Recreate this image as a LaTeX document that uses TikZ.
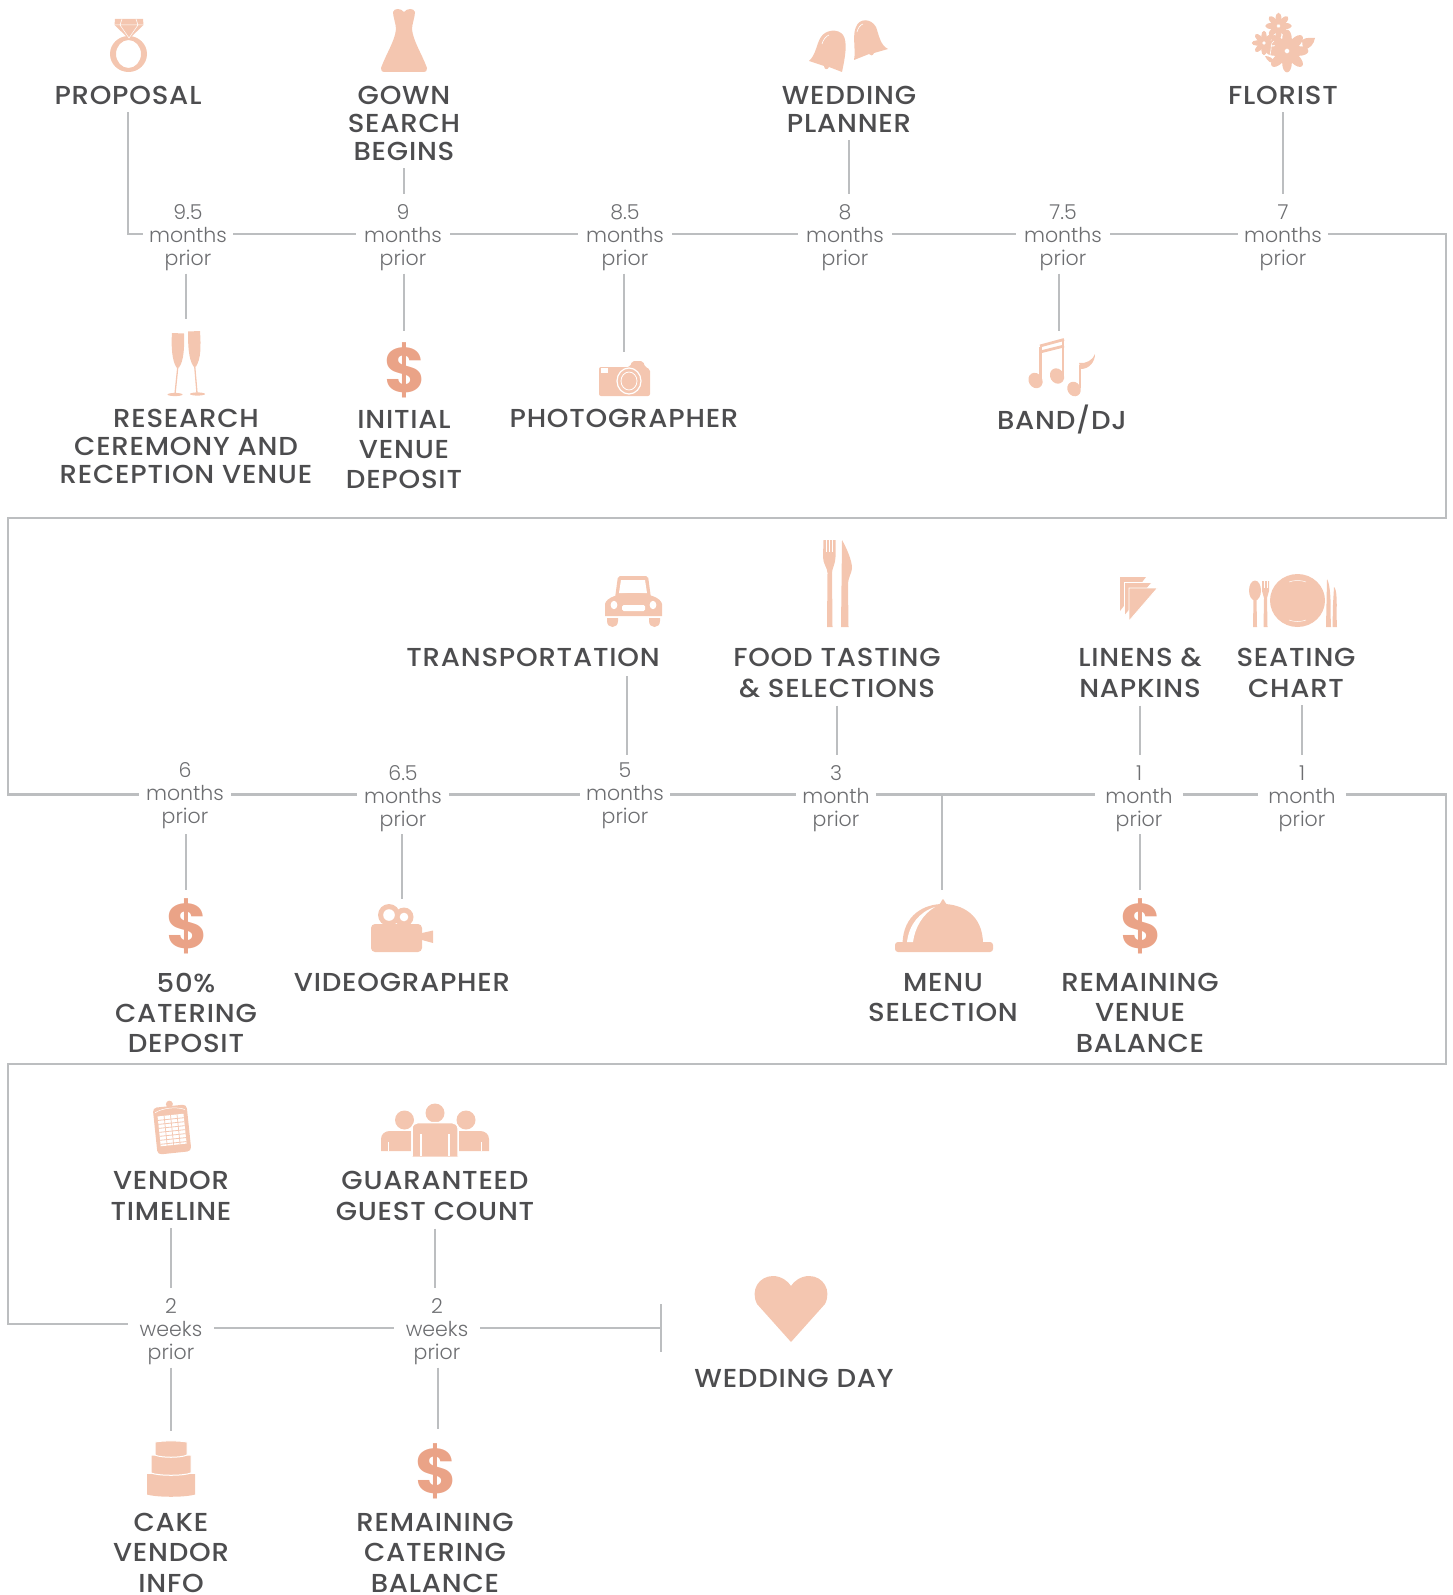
\documentclass[tikz,border=0pt]{standalone}
\usepackage{fontspec}
\setmainfont{Poppins}
\newfontfamily\labelfont{Poppins Medium}[FakeStretch=1.06,LetterSpace=3]
\newfontfamily\timefont{Poppins Light}
\newfontfamily\dollarfont{Poppins Bold}
\definecolor{linegray}{HTML}{BCBEC0}
\definecolor{labelgray}{HTML}{4D4D4F}
\definecolor{timegray}{HTML}{6D6E71}
\definecolor{peach}{HTML}{F4C6B0}
\definecolor{salmon}{HTML}{EAA387}

\tikzset{
  conn/.style={draw=linegray,line width=2.8pt},
  tnode/.style={align=center,text=timegray,inner xsep=6pt,inner ysep=0pt,minimum height=79pt,
    font=\timefont\fontsize{20.5}{23}\selectfont},
  lab/.style={align=center,text=labelgray,inner sep=0pt,outer ysep=8pt,anchor=north,yshift=8pt,
    font=\labelfont\fontsize{26}{#1}\selectfont},
  lab/.default=28,
  dollar/.style={text=salmon,inner sep=0pt,font=\dollarfont\fontsize{63}{63}\selectfont},
  % the icons, drawn from their top left corner
  ringpic/.pic={
    \fill[peach,even odd rule] (18.5,35) ellipse [x radius=18.5,y radius=18] (18.5,35) ellipse [x radius=12.5,y radius=14];
    \fill[peach] (5,0) -- (33,0) -- (33.5,6) -- (20,19) -- (18,19) -- (4.5,6) -- cycle;
    \draw[white,line width=.5pt] (4.5,6) -- (33.5,6) (12,0) -- (10,6) -- (19,19) -- (28,6) -- (26,0);
  },
  gownpic/.pic={
    \fill[peach] (23,3) .. controls (20,-1) and (13,-1) .. (12,3) .. controls (12,8) and (15,15) .. (15,20)
      .. controls (14,32) and (5,45) .. (0,59) .. controls (0,62) and (1,63) .. (3,63) -- (43,63)
      .. controls (45,63) and (46,62) .. (46,59) .. controls (41,45) and (32,32) .. (31,20)
      .. controls (31,15) and (34,8) .. (34,3) .. controls (33,-1) and (26,-1) .. (23,3) -- cycle;
  },
  bellspic/.pic={
    \fill[peach] (0,41) .. controls (7,35) and (8,22) .. (12,17) .. controls (16,10) and (29,8) .. (34,15)
      .. controls (39,22) and (36,38) .. (33,52) -- (20,47) .. controls (19,50) and (15,50) .. (15,46) -- cycle;
    \fill[peach] (45,40) .. controls (47,30) and (43,15) .. (47,7) .. controls (50,-2) and (62,-2) .. (67,7)
      .. controls (70,15) and (71,25) .. (79,29) -- (65,33) .. controls (64,36) and (61,36) .. (60,34) -- cycle;
    \draw[white,line width=.6pt] (13,24) .. controls (14,20) and (17,16) .. (20,15);
    \draw[white,line width=.6pt] (48,12) .. controls (49,8) and (51,5) .. (54,4);
  },
  flowerpic/.pic={
    \fill[peach] (50,27) .. controls (54,24) and (59,25) .. (63,25) .. controls (62,31) and (58,36) .. (51,37) -- cycle;
    \fill[peach] (13,43) .. controls (17,43) and (21,45) .. (24,50) .. controls (19,51) and (15,48) .. (13,43) -- cycle;
    \foreach \cx/\cy/\r/\n in {26.5/13/13/8,12/30/12/8,35/38/21/8}{
      \foreach \i in {1,...,\n}
        \fill[peach] (\cx,\cy) ++(\i*360/\n:\r*0.56) ellipse [x radius=\r*0.46,y radius=\r*0.23,rotate=-\i*360/\n];
      \fill[white] (\cx,\cy) circle (.9);
    }
    \draw[white,line width=.6pt] (22,28) .. controls (18,30) and (20,35) .. (18,42);
  },
  flutespic/.pic={
    \fill[peach] (5,2) -- (17,2.5) .. controls (17.5,15) and (17,30) .. (12,36.5) -- (9.5,36.5) .. controls (5,30) and (4,15) .. (5,2) -- cycle;
    \fill[peach] (21,.5) -- (33,0) .. controls (34,15) and (34,28) .. (29,35.5) -- (26.5,35.5) .. controls (21.5,28) and (21,15) .. (21,.5) -- cycle;
    \draw[peach,line width=1.3pt] (10.8,36) -- (8,63) (27.7,35) -- (30,62);
    \fill[peach] (8,63.5) ellipse [x radius=7.5,y radius=1.6] (30.5,63) ellipse [x radius=7.5,y radius=1.6];
  },
  camerapic/.pic={
    \fill[peach,rounded corners=2pt] (31,6) -- (33,0) -- (44,0) -- (46,6) -- (51,8) -- (51,35) -- (0,35) -- (0,6) -- cycle;
    \fill[white] (2,7) rectangle (9,12);
    \draw[white,line width=1.2pt] (30,20) ellipse [x radius=12,y radius=13];
    \draw[white,line width=.8pt] (30,20) ellipse [x radius=8,y radius=9];
  },
  musicpic/.pic={
    \fill[peach,rotate around={30:(6.5,42.5)}] (6.5,42.5) ellipse [x radius=6.8,y radius=8];
    \fill[peach,rotate around={30:(28,38)}] (28,38) ellipse [x radius=6.8,y radius=8];
    \fill[peach,rotate around={30:(45,51)}] (45,51) ellipse [x radius=6.5,y radius=7.5];
    \draw[peach,line width=2.4pt] (11.5,42) -- (11.5,9) (34,38) -- (34,2) (51,50) -- (51,27);
    \draw[peach,line width=2.8pt] (11,8) -- (35,1.5) (11,14) -- (35,8);
    \fill[peach] (50,25) .. controls (57,26) and (64,22) .. (66,16) .. controls (66,24) and (60,31) .. (52,31) -- cycle;
  },
  carpic/.pic={
    \fill[peach,rounded corners=2pt] (13,0) -- (43,0) -- (46,22) -- (10,22) -- cycle;
    \fill[white] (16,4) -- (40,4) -- (42,17) -- (14,17) -- cycle;
    \fill[peach] (0,40) -- (0,28) .. controls (1,22) and (13,17) .. (28.5,17) .. controls (44,17) and (56,22) .. (57,28) -- (57,40) -- cycle;
    \fill[white] (9,29) ellipse [x radius=3.4,y radius=4.2] (48,29) ellipse [x radius=3.4,y radius=4.2];
    \fill[white,rounded corners=1.5pt] (17,29) rectangle (40,35);
    \fill[peach] (2,42) -- (13,42) -- (13,45) .. controls (13,53) and (2,53) .. (2,45) -- cycle
      (44,42) -- (55,42) -- (55,45) .. controls (55,53) and (44,53) .. (44,45) -- cycle;
  },
  cutlerypic/.pic={
    \fill[peach] (.5,0) -- (12.5,0) -- (12.5,17) .. controls (12.5,24) and (9,28) .. (9,33) -- (9.5,87) -- (4,87) -- (4.5,33) .. controls (4.5,28) and (0,24) .. (0,17) -- cycle;
    \draw[white,line width=.5pt] (3.5,0) -- (3.5,12) (6.5,0) -- (6.5,12) (9.5,0) -- (9.5,12);
    \fill[peach] (19,0) .. controls (23,7) and (29,20) .. (29,28) .. controls (29,33) and (25,37) .. (25,45) -- (25.5,87) -- (18,87) -- (18.5,45) -- cycle;
  },
  napkinpic/.pic={
    \fill[peach] (0,0) -- (26,0) -- (0,34) -- cycle;
    \draw[white,line width=.8pt,fill=peach] (4.5,5.5) -- (32,5.5) -- (4.5,39) -- cycle;
    \draw[white,line width=.8pt,fill=peach] (9,11) -- (37.5,11) -- (9,44) -- cycle;
  },
  platepic/.pic={
    \fill[peach] (6,16.5) ellipse [x radius=6,y radius=10];
    \fill[peach] (4.5,24) -- (7.5,24) -- (8,53) -- (4,53) -- cycle;
    \fill[peach] (13,7) -- (20,7) -- (20,17) .. controls (20,20) and (18,21) .. (18,24) -- (18.5,53) -- (14.5,53) -- (15,24) .. controls (15,21) and (13,20) .. (13,17) -- cycle;
    \draw[white,line width=.4pt] (15.3,7) -- (15.3,14) (17.7,7) -- (17.7,14);
    \fill[peach] (48.5,26.5) ellipse [x radius=27.5,y radius=26.5];
    \draw[white,line width=.5pt] (40,8) .. controls (45,6) and (52,6) .. (57,8) (40,46) .. controls (45,48) and (52,48) .. (57,46);
    \fill[peach] (78,5) .. controls (81,10) and (82,25) .. (81.5,38) -- (82,53) -- (77,53) -- cycle;
    \fill[peach] (85,13) .. controls (88,15) and (88,30) .. (87.5,40) -- (88,53) -- (83.5,53) -- (84,30) -- cycle;
  },
  videopic/.pic={
    \fill[peach] (18,10) circle (11) (33,12) circle (9.5);
    \fill[white] (18,10) circle (5.8) (33,12) circle (4.3);
    \fill[peach,rounded corners=4pt] (0,19) rectangle (51,47);
    \fill[peach] (51,28) -- (62,25.5) -- (62,38) -- (51,35) -- cycle;
  },
  clochepic/.pic={
    \fill[peach] (7.5,45) .. controls (8,15) and (30,5) .. (48,5) .. controls (66,5) and (88,15) .. (88,45) -- cycle;
    \fill[peach] (43,6) .. controls (46,5) and (47,0) .. (48,0) .. controls (49,0) and (50,5) .. (53,6) -- cycle;
    \fill[peach,rounded corners=3pt] (0,43) -- (98,43) -- (98,53) -- (0,53) -- cycle;
    \fill[white] (12,43) .. controls (14,26) and (24,13) .. (40,8) .. controls (28,15) and (20,28) .. (18,43) -- cycle;
  },
  clipboardpic/.pic={
    \begin{scope}[rotate around={6:(21,28)}]
      \fill[peach] (21,3) circle (3.5);
      \fill[peach,rounded corners=4pt] (4,5) rectangle (38,52);
      \fill[white] (8,14) rectangle (34,44);
      \foreach \c in {14.5,21,27.5}
        \draw[peach,line width=.7pt] (\c,14) -- (\c,44);
      \foreach \r in {18,22,...,42}
        \draw[peach,line width=.8pt] (8,\r) -- (34,\r);
      \draw[white,line width=.5pt] (6,10) .. controls (14,6) and (28,6) .. (36,10);
    \end{scope}
  },
  peoplepic/.pic={
    \fill[peach] (23.5,17) circle (9.5) (85,17) circle (9.5) (54,10) circle (9.5);
    \fill[peach] (0,48) -- (0,36) .. controls (0,31) and (4,28) .. (9,28) -- (30,28) -- (30,48) -- cycle;
    \fill[peach] (108,48) -- (108,36) .. controls (108,31) and (104,28) .. (99,28) -- (78,28) -- (78,48) -- cycle;
    \draw[white,line width=1.5pt,fill=peach] (31,53.5) -- (31,25) .. controls (31,22) and (34,19.5) .. (37,19.5) -- (71,19.5) .. controls (74,19.5) and (77,22) .. (77,25) -- (77,53.5);
    \draw[white,line width=1.4pt] (7.5,39) -- (7.5,48) (100.5,39) -- (100.5,48) (40,31) -- (40,53) (68,31) -- (68,53);
  },
  cakepic/.pic={
    \fill[peach] (0,33) -- (48,33) -- (48,53.5) .. controls (38,56.5) and (10,56.5) .. (0,53.5) -- cycle;
    \draw[white,line width=1pt,fill=peach] (4,14) -- (44,14) -- (44,32) .. controls (36,35) and (12,35) .. (4,32) -- cycle;
    \draw[white,line width=1pt,fill=peach] (8,1) .. controls (16,-.5) and (32,-.5) .. (40,1) -- (40,14) .. controls (34,17) and (14,17) .. (8,14) -- cycle;
  },
  heartpic/.pic={
    \fill[peach] (38,66) -- (4,28) .. controls (-3,14) and (6,0) .. (20,0) .. controls (28,0) and (35,5) .. (38,10)
      .. controls (41,5) and (48,0) .. (56,0) .. controls (70,0) and (79,14) .. (72,28) -- cycle;
  },
}

\begin{document}
\begin{tikzpicture}[x=1pt,y=-1pt]
    \useasboundingbox (0,0) rectangle (1452,1595);

    % The time marks, row by row
    \foreach \name/\x/\y/\top/\word/\lift/\sep in {T95/188/234/9.5/months/22.5/6,T90/403/234/9/months/22.5/8,T85/625/234/8.5/months/22.5/8,
        T80/845/234/8/months/22.5/8,T75/1063/234/7.5/months/22.5/8,T70/1283/234/7/months/22.5/6,
        T60/185/794.5/6/months/17.5/7,T65/403/794.5/6.5/months/23.5/7,T50/625/794.5/5/months/17.5/6,T30/836/794.5/3/month/23.5/6,
        T10a/1139/794.5/1/month/23.5/10,T10b/1302/794.5/1/month/23.5/10,W2a/171/1328/2/weeks/22.5/12,W2b/437/1328/2/weeks/22.5/12}
        \node[tnode,inner xsep=\sep pt] (\name) at (\x,\y) {\rule{0pt}{\lift pt}\top\\\word\\prior};

    % Top row
    \node[lab] (proposal) at (128,86) {PROPOSAL};
    \node[lab] (gown) at (404,86) {GOWN\\SEARCH\\BEGINS};
    \node[lab] (planner) at (849,86) {WEDDING\\PLANNER};
    \node[lab] (florist) at (1283,86) {FLORIST};
    \node[lab] (venue) at (186,409) {RESEARCH\\CEREMONY AND\\RECEPTION VENUE};
    \node[lab={30}] (initial) at (404,410) {INITIAL\\VENUE\\DEPOSIT};
    \node[lab] (photo) at (624,409) {PHOTOGRAPHER};
    \node[lab] (band) at (1062,405) {BAND/DJ};

    % Middle row
    \node[lab] (transport) at (533,648) {TRANSPORTATION};
    \node[lab={31}] (food) at (837,648) {FOOD TASTING\\\& SELECTIONS};
    \node[lab={31}] (linens) at (1140,648) {LINENS \&\\NAPKINS};
    \node[lab={31}] (seating) at (1296,648) {SEATING\\CHART};
    \node[lab={30}] (catering) at (186,973) {50\%\\CATERING\\DEPOSIT};
    \node[lab] (video) at (402,973) {VIDEOGRAPHER};
    \node[lab={30.5}] (menu) at (943,973) {MENU\\SELECTION};
    \node[lab={30.5}] (balance) at (1140,973) {REMAINING\\VENUE\\BALANCE};

    % Bottom row
    \node[lab={31}] (vendor) at (171,1171) {VENDOR\\TIMELINE};
    \node[lab={31}] (guest) at (435,1171) {GUARANTEED\\GUEST COUNT};
    \node[lab] (day) at (794,1369) {WEDDING DAY};
    \node[lab={30.5}] (cake) at (171,1513) {CAKE\\VENDOR\\INFO};
    \node[lab={30.5}] (rest) at (435,1513) {REMAINING\\CATERING\\BALANCE};

    % Icons
    \pic (ring) at (110,19) {ringpic};
    \pic (dress) at (381,9) {gownpic};
    \pic (bells) at (809,20) {bellspic};
    \pic (flowers) at (1252,13) {flowerpic};
    \pic (flutes) at (167,331) {flutespic};
    \pic (camera) at (599,361) {camerapic};
    \pic (music) at (1029,338) {musicpic};
    \pic (car) at (605,576) {carpic};
    \pic (cutlery) at (823,540) {cutlerypic};
    \pic (napkin) at (1120,577) {napkinpic};
    \pic (plate) at (1249,574) {platepic};
    \pic (movie) at (371,905) {videopic};
    \pic (cloche) at (895,899) {clochepic};
    \pic (clip) at (151,1101) {clipboardpic};
    \pic (people) at (381,1103) {peoplepic};
    \pic (tiers) at (147,1441) {cakepic};
    \pic (heart) at (753,1276) {heartpic};
    \node[dollar] (d1) at (405.5,370) {\$};
    \node[dollar] (d2) at (187.5,926) {\$};
    \node[dollar] (d3) at (1141.5,926) {\$};
    \node[dollar] (d4) at (436.5,1471) {\$};

    % Free ends of the connectors
    \coordinate (transport-start) at (627,676);
    \coordinate (flutes-end) at (186,319);
    \coordinate (d1-end) at (404,331);
    \coordinate (camera-end) at (624,352);
    \coordinate (music-end) at (1059,331);
    \coordinate (d2-end) at (186,890);
    \coordinate (movie-end) at (402,899);
    \coordinate (cloche-end) at (942,890);
    \coordinate (d3-end) at (1140,890);
    \coordinate (tiers-end) at (171,1431);
    \coordinate (d4-end) at (438,1429);
    \coordinate (R1) at (1446,518);
    \coordinate (L1) at (8,518);
    \coordinate (R2) at (1446,1064);
    \coordinate (L2) at (8,1064);
    \coordinate (stop) at (661,1328);

    % The long timeline
    \draw[conn] (proposal.south) |- (T95.west);
    \foreach \source/\dest in {T95/T90,T90/T85,T85/T80,T80/T75,T75/T70,T60/T65,T65/T50,T50/T30,T30/T10a,T10a/T10b,W2a/W2b}
        \draw[conn] (\source.east) -- (\dest.west);
    \draw[conn] (T70.east) -| (R1) -- (L1) |- (T60.west);
    \draw[conn] (T10b.east) -| (R2) -- (L2) |- ([yshift=4pt]W2a.west);
    \draw[conn] (W2b.east) -- (stop);
    \draw[conn] ([yshift=24pt]stop) -- ([yshift=-24pt]stop);

    % Labels above the timeline
    \foreach \source/\dest in {gown/T90,planner/T80,florist/T70,food/T30,linens/T10a,vendor/W2a,guest/W2b}
        \draw[conn] (\source.south) -- (\source.south |- \dest.north);
    \draw[conn] (transport-start) -- (transport-start |- T50.north);
    \draw[conn] (T10b.north |- seating.south) -- (T10b.north);

    % Icons below the timeline
    \foreach \source/\dest in {T95/flutes-end,T90/d1-end,T85/camera-end,T75/music-end,T60/d2-end,T65/movie-end,T10a/d3-end,W2a/tiers-end,W2b/d4-end}
        \draw[conn] (\source.south -| \dest) -- (\dest);
    \draw[conn] (T30.east -| cloche-end) -- (cloche-end);
\end{tikzpicture}
\end{document}
